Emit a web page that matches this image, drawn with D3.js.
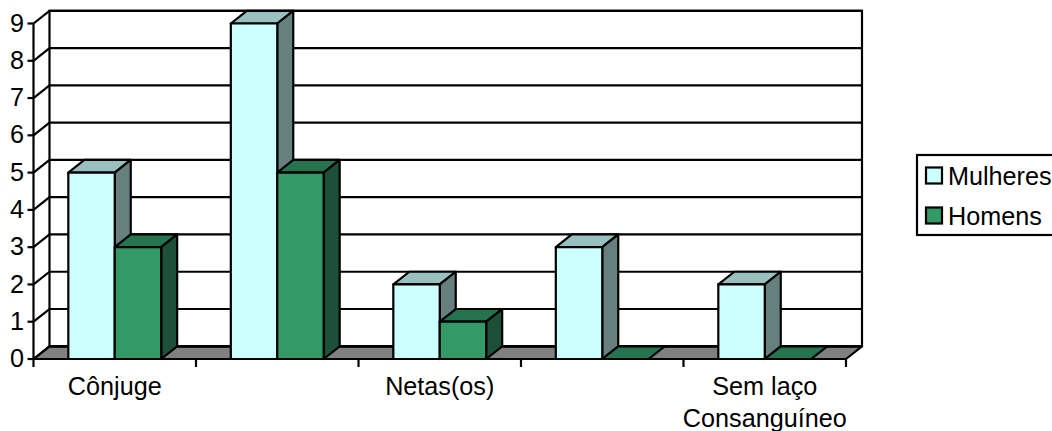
<!DOCTYPE html>
<html>
<head>
<meta charset="utf-8">
<script src="https://cdn.jsdelivr.net/npm/d3@7/dist/d3.min.js"></script>
<style>
  html, body { margin: 0; padding: 0; background: #fff; overflow: hidden; }
  text { font-family: "Liberation Sans", Arial, sans-serif; fill: #000; }
</style>
</head>
<body>
<svg id="chart" width="1052" height="431"></svg>
<script>
// Chart data
const categories = ["Cônjuge", "c2", "Netas(os)", "c4", "Sem laço|Consanguíneo"];
const hiddenLabels = ["c2", "c4"];
const seriesNames = ["Mulheres", "Homens"];
const mulheres = [5, 9, 2, 3, 2];
const homens = [3, 5, 1, 0, 0];
const yTicks = [0, 1, 2, 3, 4, 5, 6, 7, 8, 9];

// Face colours per series: front, top, side
const faceColors = {
  Mulheres: { front: "#ccffff", top: "#99bfbf", side: "#668080" },
  Homens: { front: "#339966", top: "#267350", side: "#1c5038" }
};
const floorColor = "#808080";
const fontSize = 25.2;
const stroke = 2.2;

const depthX = 16, depthY = -12.7;
const svg = d3.select("#chart");

const y = d3.scaleLinear().domain([0, 9]).range([359, 23.5]);
const x0 = d3.scaleBand().domain(categories).range([33.5, 846]);
const x1 = d3.scaleBand().domain(seriesNames).range([0, x0.bandwidth()])
  .paddingInner(0).paddingOuter(0.75);
const xEdges = d3.scaleLinear().domain([0, categories.length]).range([33.5, 846]);

const line = (g, x1p, y1p, x2p, y2p) => g.append("line")
  .attr("x1", x1p).attr("y1", y1p).attr("x2", x2p).attr("y2", y2p)
  .attr("stroke", "#000").attr("stroke-width", stroke);

const poly = (g, pts, fill) => g.append("polygon")
  .attr("points", pts.map(p => p.join(",")).join(" "))
  .attr("fill", fill).attr("stroke", "#000").attr("stroke-width", stroke)
  .attr("stroke-linejoin", "round");

// Floor of the 3D box
const walls = svg.append("g");
const [xL, xR] = x0.range();
const yBase = y(0);
poly(walls, [[xL, yBase], [xR, yBase], [xR + depthX, yBase + depthY], [xL + depthX, yBase + depthY]], floorColor);

// Back wall outline, gridlines and the diagonal steps on the left wall
walls.append("rect")
  .attr("x", xL + depthX).attr("y", y(9) + depthY)
  .attr("width", xR - xL).attr("height", yBase - y(9))
  .attr("fill", "none").attr("stroke", "#000").attr("stroke-width", stroke);
yTicks.forEach(t => {
  const yy = y(t);
  line(walls, xL + depthX, yy + depthY, xR + depthX, yy + depthY);
  line(walls, xL, yy, xL + depthX, yy + depthY);
});

// Bars: each one is a top, a side and a front face
const groups = svg.append("g").selectAll("g")
  .data(categories).join("g")
  .attr("transform", d => `translate(${x0(d)},0)`);

groups.each(function (cat, i) {
  const g = d3.select(this);
  const rows = [
    { name: "Mulheres", value: mulheres[i] },
    { name: "Homens", value: homens[i] }
  ];
  rows.forEach(r => {
    const left = x1(r.name), right = left + x1.bandwidth();
    const top = y(r.value);
    const c = faceColors[r.name];
    poly(g, [[left, top], [right, top], [right + depthX, top + depthY], [left + depthX, top + depthY]], c.top);
    if (r.value > 0) {
      poly(g, [[right, top], [right + depthX, top + depthY], [right + depthX, yBase + depthY], [right, yBase]], c.side);
      poly(g, [[left, top], [right, top], [right, yBase], [left, yBase]], c.front);
    }
  });
});

// Axes
const yAxis = svg.append("g")
  .attr("transform", `translate(${xL},0)`)
  .call(d3.axisLeft(y).tickValues(yTicks).tickFormat(d3.format("d")).tickSize(6).tickSizeOuter(0).tickPadding(3.5).offset(0));
yAxis.selectAll("text").style("font-size", fontSize + "px");

const tickAxis = svg.append("g")
  .attr("transform", `translate(0,${yBase})`)
  .call(d3.axisBottom(xEdges).ticks(categories.length).tickFormat("").tickSize(8).tickSizeOuter(0).offset(0));

const labelAxis = svg.append("g")
  .attr("transform", `translate(0,${yBase})`)
  .call(d3.axisBottom(x0).tickSize(0).tickPadding(0).offset(0).tickFormat(() => ""));
labelAxis.select(".domain").remove();
labelAxis.selectAll(".tick text").each(function (d) {
  const t = d3.select(this).attr("y", null).attr("dy", null).style("font-size", fontSize + "px");
  if (hiddenLabels.includes(d)) return;
  d.split("|").forEach((part, k) => {
    t.append("tspan").attr("x", 0).attr("y", 36 + k * 32).text(part);
  });
});

svg.selectAll(".domain, .tick line").attr("stroke", "#000").attr("stroke-width", stroke);

// Legend
const legend = svg.append("g");
legend.append("rect")
  .attr("x", 917).attr("y", 155).attr("width", 140).attr("height", 80)
  .attr("fill", "#fff").attr("stroke", "#000").attr("stroke-width", stroke);
const legendY = d3.scalePoint().domain(seriesNames).range([175.5, 215.5]);
seriesNames.forEach(name => {
  const ly = legendY(name);
  legend.append("rect")
    .attr("x", 926).attr("y", ly - 8).attr("width", 16).attr("height", 16)
    .attr("fill", faceColors[name].front).attr("stroke", "#000").attr("stroke-width", stroke);
  legend.append("text")
    .attr("x", 948).attr("y", ly + 9.5).style("font-size", fontSize + "px").text(name);
});
</script>
</body>
</html>
